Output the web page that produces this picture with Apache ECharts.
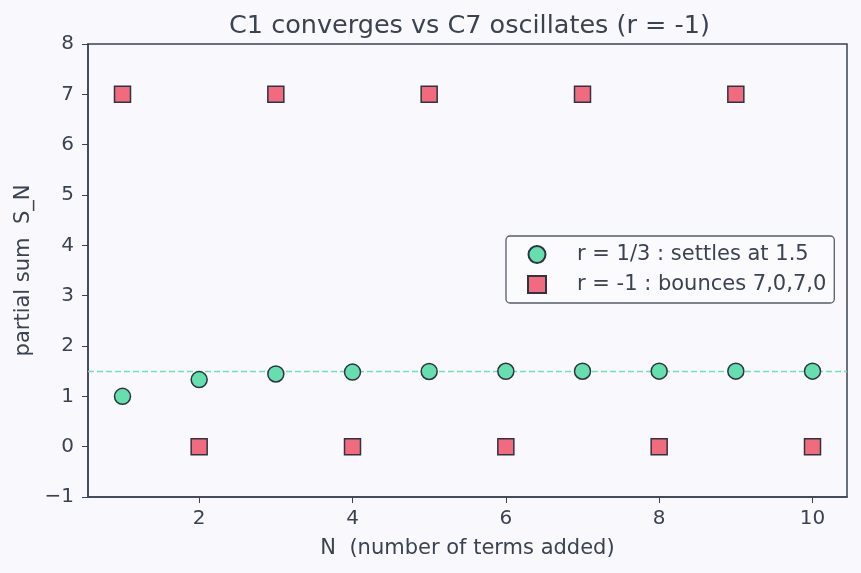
<!DOCTYPE html>
<html>
<head>
<meta charset="utf-8">
<script src="https://cdn.jsdelivr.net/npm/echarts@6/dist/echarts.min.js"></script>
<style>
  html, body { margin: 0; padding: 0; background: #f9f9fd; }
  #main { width: 861px; height: 573px; }
</style>
</head>
<body>
<div id="main"></div>
<script>
// terms added
var nTerms = [1, 2, 3, 4, 5, 6, 7, 8, 9, 10];
// partial sums, r = 1/3 (settles at 1.5)
var sumsThird = [1, 1.333, 1.444, 1.481, 1.494, 1.498, 1.499, 1.5, 1.5, 1.5];
// partial sums, r = -1 (bounces)
var sumsMinusOne = [7, 0, 7, 0, 7, 0, 7, 0, 7, 0];
var xTicks = [2, 4, 6, 8, 10];
var limit = 1.5;

var ink = '#3b4252';
var font = 'DejaVu Sans';

function pairs(xs, ys) {
  var out = [];
  for (var i = 0; i < xs.length; i++) out.push([xs[i], ys[i]]);
  return out;
}

var chart = echarts.init(document.getElementById('main'));
chart.setOption({
  backgroundColor: '#f9f9fd',
  textStyle: { fontFamily: font, color: ink },
  title: {
    text: 'C1 converges vs C7 oscillates (r = -1)',
    left: 224,
    top: 8,
    textStyle: { fontFamily: font, fontSize: 25.5, fontWeight: 'normal', color: ink }
  },
  grid: {
    left: 88, right: 14, top: 44, bottom: 76,
    show: true, borderColor: ink, borderWidth: 1.5, backgroundColor: 'transparent'
  },
  legend: {
    orient: 'vertical',
    left: 506, top: 236,
    padding: [8, 8, 8, 21],
    itemGap: 9,
    itemWidth: 18, itemHeight: 17,
    backgroundColor: '#fbfbfe',
    borderColor: '#555c6a', borderWidth: 1.3, borderRadius: 4,
    textStyle: { fontFamily: font, fontSize: 21, color: ink, padding: [0, 0, 0, 26] },
    data: [
      { name: 'r = 1/3 : settles at 1.5', icon: 'circle' },
      { name: 'r = -1 : bounces 7,0,7,0', icon: 'rect' }
    ]
  },
  xAxis: {
    type: 'value',
    min: 0.55, max: 10.45,
    name: 'N  (number of terms added)',
    nameLocation: 'middle',
    nameGap: 41,
    nameTextStyle: { fontFamily: font, fontSize: 21, color: ink },
    splitLine: { show: false },
    axisLine: { show: true, onZero: false, lineStyle: { color: ink, width: 1.5 } },
    axisTick: { show: true, length: 6, customValues: xTicks, lineStyle: { color: ink } },
    axisLabel: { customValues: xTicks, fontFamily: font, fontSize: 20, color: ink, margin: 12 }
  },
  yAxis: {
    type: 'value',
    min: -1, max: 8, interval: 1,
    name: 'partial sum  S_N',
    nameLocation: 'middle',
    nameGap: 52,
    nameTextStyle: { fontFamily: font, fontSize: 21, color: ink },
    splitLine: { show: false },
    axisLine: { show: true, onZero: false, lineStyle: { color: ink, width: 1.5 } },
    axisTick: { show: true, length: 6, lineStyle: { color: ink } },
    axisLabel: {
      fontFamily: font, fontSize: 20, color: ink, margin: 14,
      formatter: function (v) { return v < 0 ? '\u2212' + Math.abs(v) : String(v); }
    }
  },
  series: [
    {
      name: 'r = 1/3 : settles at 1.5',
      type: 'scatter',
      symbol: 'circle',
      symbolSize: 16,
      itemStyle: { color: '#66dfae', borderColor: '#2e3440', borderWidth: 1.5, opacity: 1 },
      data: pairs(nTerms, sumsThird),
      z: 3,
      markLine: {
        silent: true,
        symbol: ['none', 'none'],
        label: { show: false },
        lineStyle: { color: '#74dfb3', type: [6, 3], width: 1.4 },
        data: [{ yAxis: limit }],
        z: 1
      }
    },
    {
      name: 'r = -1 : bounces 7,0,7,0',
      type: 'scatter',
      symbol: 'rect',
      symbolSize: 16,
      itemStyle: { color: '#f26a7e', borderColor: '#2e3440', borderWidth: 1.5, opacity: 1 },
      data: pairs(nTerms, sumsMinusOne),
      z: 3
    }
  ]
});
</script>
</body>
</html>
